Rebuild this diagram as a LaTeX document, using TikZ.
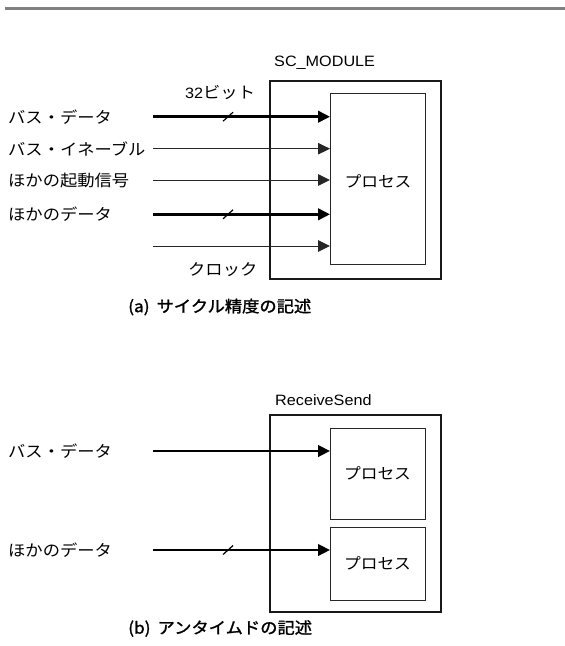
\documentclass[tikz,border=0pt]{standalone}
\usepackage{fontspec}
\setmainfont{Noto Sans CJK JP}[FakeStretch=1.08]
\newfontfamily\lat{Liberation Sans}[FakeStretch=1.08]
\newfontfamily\capfont{Noto Sans CJK JP}[FakeStretch=1.08,FakeBold=1.5]
\usetikzlibrary{arrows.meta}
\begin{document}
\begin{tikzpicture}[x=1pt,y=-1pt,
  lbl/.style={anchor=west,inner sep=0pt,font=\fontsize{16}{16}\selectfont},
  captxt/.style={anchor=west,inner sep=0pt,font=\fontsize{16}{16}\selectfont\capfont},
  outerbox/.style={draw=black!90,line width=2pt,anchor=north west,inner sep=0pt,outer sep=0pt},
  procbox/.style={draw=black!85,line width=1pt,anchor=north west,inner sep=0pt,outer sep=0pt},
  proctxt/.style={inner sep=0pt,font=\fontsize{15.5}{15.5}\selectfont},
  bus/.style={line width=2.6pt,-{Triangle[length=12pt,width=11.5pt]}},
  sig/.style={line width=1pt,draw=black!85,-{Triangle[length=12pt,width=11.5pt]}},
  slash/.style={line width=1.2pt}]
\useasboundingbox (0,0) rectangle (565,646);
\coordinate (ruleL) at (5,8.5);
\coordinate (ruleR) at (565,8.5);
\draw[line width=3pt,black!50] (ruleL) -- (ruleR);

% ---------- (a) ----------
\node[outerbox,minimum width=171pt,minimum height=198pt] (mod) at (270,81) {};
\node[procbox,minimum width=95pt,minimum height=171pt] (proc) at (330,93) {};
\node[proctxt] (proct) at (378,181.5) {プロセス};
\node[lbl,font=\fontsize{15}{15}\selectfont\lat] (modt) at (274,62.7) {SC\_MODULE};

\node[lbl] (l1) at (8,116.7) {バス・データ};
\node[lbl] (l2) at (8,148.7) {バス・イネーブル};
\node[lbl] (l3) at (8,180) {ほかの起動信号};
\node[lbl] (l4) at (8,214.3) {ほかのデータ};
\node[lbl] (bits) at (185,92.5) {{\fontsize{15}{15}\selectfont\lat 32}ビット};
\node[lbl] (clk) at (188,270) {クロック};

\coordinate (s1) at (153,116.7);
\coordinate (s2) at (153,148.7);
\coordinate (s3) at (153,180);
\coordinate (s4) at (153,214.3);
\coordinate (s5) at (153,246);
\draw[bus] (s1) -- coordinate[pos=0.424] (m1) (s1 -| proc.west);
\draw[sig] (s2) -- (s2 -| proc.west);
\draw[sig] (s3) -- (s3 -| proc.west);
\draw[bus] (s4) -- coordinate[pos=0.424] (m4) (s4 -| proc.west);
\draw[sig] (s5) -- (s5 -| proc.west);
\draw[slash] ([shift={(-5,4.5)}]m1) -- ([shift={(5,-4.5)}]m1);
\draw[slash] ([shift={(-5,4.5)}]m4) -- ([shift={(5,-4.5)}]m4);

\node[captxt] (capa) at (128,307) {(a)\hspace{7pt}サイクル精度の記述};

% ---------- (b) ----------
\node[outerbox,minimum width=171pt,minimum height=197pt] (rs) at (270,415) {};
\node[lbl,font=\fontsize{15}{15}\selectfont\lat] (rst) at (275,400.5) {ReceiveSend};
\node[procbox,minimum width=95pt,minimum height=91pt] (pa) at (330,428.3) {};
\node[procbox,minimum width=95pt,minimum height=72.7pt] (pb) at (330,527.3) {};
\node[proctxt] (pat) at (pa.center) {プロセス};
\node[proctxt] (pbt) at (pb.center) {プロセス};

\node[lbl] (b1) at (8,451) {バス・データ};
\node[lbl] (b2) at (8,550) {ほかのデータ};
\coordinate (t1) at (153,451);
\coordinate (t2) at (153,550);
\draw[bus] (t1) -- (t1 -| pa.west);
\draw[bus] (t2) -- coordinate[pos=0.424] (n2) (t2 -| pb.west);
\draw[slash] ([shift={(-5,4.5)}]n2) -- ([shift={(5,-4.5)}]n2);

\node[captxt] (capb) at (128,628.5) {(b)\hspace{7pt}アンタイムドの記述};
\end{tikzpicture}
\end{document}
